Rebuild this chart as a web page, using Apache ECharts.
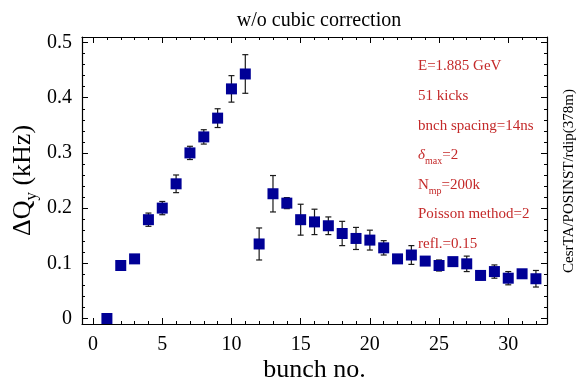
<!DOCTYPE html>
<html>
<head>
<meta charset="utf-8">
<script src="https://cdn.jsdelivr.net/npm/echarts@6/dist/echarts.min.js"></script>
<style>html,body{margin:0;padding:0;background:#fff}#c{width:577px;height:383px}</style>
</head>
<body>
<div id="c"></div>
<script>
// ---- data ----
const bunch = [1,2,3,4,5,6,7,8,9,10,11,12,13,14,15,16,17,18,19,20,21,22,23,24,25,26,27,28,29,30,31,32];
const dQ = [0,0.096,0.108,0.179,0.200,0.244,0.300,0.329,0.363,0.416,0.443,0.135,0.226,0.209,0.179,0.175,0.168,0.154,0.145,0.142,0.128,0.108,0.115,0.104,0.096,0.103,0.099,0.078,0.085,0.073,0.081,0.072];
const dQerr = [0,0.003,0.003,0.012,0.012,0.016,0.012,0.013,0.017,0.024,0.035,0.029,0.033,0.010,0.028,0.023,0.016,0.022,0.020,0.018,0.013,0.004,0.017,0.005,0.010,0.004,0.014,0.008,0.012,0.012,0.004,0.015];
const xMajor = [0,5,10,15,20,25,30];
const xMinor = [0,1,2,3,4,5,6,7,8,9,10,11,12,13,14,15,16,17,18,19,20,21,22,23,24,25,26,27,28,29,30,31,32];
const yMajor = [0,0.1,0.2,0.3,0.4,0.5];
const yMinor = [0,0.02,0.04,0.06,0.08,0.1,0.12,0.14,0.16,0.18,0.2,0.22,0.24,0.26,0.28,0.3,0.32,0.34,0.36,0.38,0.4,0.42,0.44,0.46,0.48,0.5];
const titleText = 'w/o cubic correction';
const xName = 'bunch no.';
const notes = ['{n|E=1.885 GeV}','{n|51 kicks}','{n|bnch spacing=14ns}','{i|δ}{s|max}{n|=2}','{n|N}{s|mp}{n|=200k}','{n|Poisson method=2}','{n|refl.=0.15}'];
const sideNote = 'CesrTA/POSINST/rdip(378m)';

const SERIF = '"Liberation Serif","Times New Roman",serif';
const BLUE = '#000096';
const RED = '#c42a2a';

const chart = echarts.init(document.getElementById('c'), null, {renderer:'canvas'});
const pts = bunch.map((b,i)=>[b,dQ[i]]);
const errs = bunch.map((b,i)=>[b,dQ[i]-dQerr[i],dQ[i]+dQerr[i]]);

function xAx(pos, major, labels){
  return {
    type:'value', position:pos, min:-0.8, max:32.8, gridIndex:0,
    axisLine:{show:major, onZero:false, lineStyle:{color:'#000', width:1.2}},
    axisTick:{show:true, inside:true, length: major?6:3, customValues: major?xMajor:xMinor, lineStyle:{color:'#000', width:1}},
    axisLabel:{show:labels, customValues:xMajor, margin:11, fontFamily:SERIF, fontSize:20, color:'#000'},
    splitLine:{show:false}
  };
}
function yAx(pos, major, labels){
  return {
    type:'value', position:pos, min:-0.01, max:0.51, gridIndex:0,
    axisLine:{show:major, onZero:false, lineStyle:{color:'#000', width:1.2}},
    axisTick:{show:true, inside:true, length: major?6:3, customValues: major?yMajor:yMinor, lineStyle:{color:'#000', width:1}},
    axisLabel:{show:labels, customValues:yMajor, margin:10, fontFamily:SERIF, fontSize:20, color:'#000'},
    splitLine:{show:false}
  };
}
const xAxes = [xAx('bottom',true,true), xAx('bottom',false,false), xAx('top',true,false), xAx('top',false,false)];
xAxes[0].name = xName;
xAxes[0].nameLocation = 'middle';
xAxes[0].nameGap = 33;
xAxes[0].nameMoveOverlap = false;
xAxes[0].nameTextStyle = {fontFamily:SERIF, fontSize:26, color:'#000'};
const yAxes = [yAx('left',true,true), yAx('left',false,false), yAx('right',true,false), yAx('right',false,false)];
yAxes[0].name = '{a|ΔQ}{s|y}{a| (kHz)}';
yAxes[0].nameLocation = 'middle';
yAxes[0].nameGap = 28;
yAxes[0].nameMoveOverlap = false;
yAxes[0].nameTextStyle = {fontFamily:SERIF, fontSize:26, color:'#000',
  rich:{a:{fontFamily:SERIF, fontSize:26, verticalAlign:'top', color:'#000'},
        s:{fontFamily:SERIF, fontSize:17, height:44, verticalAlign:'top', color:'#000'}}};

const noteRich = {
  n:{fontFamily:SERIF, fontSize:15, color:RED, verticalAlign:'top'},
  i:{fontFamily:SERIF, fontSize:15, fontStyle:'italic', color:RED, verticalAlign:'top'},
  s:{fontFamily:SERIF, fontSize:10, color:RED, height:27, verticalAlign:'top'}
};
const graphics = notes.map((t,i)=>({
  type:'text', left:418, top: 59 + i*29.6,
  style:{text:t, fill:RED, font:'15px '+SERIF, rich:noteRich}
}));
graphics.push({
  type:'text', x:569, y:181, rotation:Math.PI/2,
  style:{text:sideNote, fill:'#000', font:'15px '+SERIF, align:'center', verticalAlign:'middle'}
});

chart.setOption({
  animation:false,
  backgroundColor:'#fff',
  title:{text:titleText, left:314, top:6, textAlign:'center',
    textStyle:{fontFamily:SERIF, fontSize:20, fontWeight:'normal', color:'#000'}},
  grid:{left:82, right:30, top:37, bottom:59, containLabel:false, outerBoundsMode:'none'},
  xAxis:xAxes,
  yAxis:yAxes,
  graphic:graphics,
  series:[
    {type:'custom', xAxisIndex:0, yAxisIndex:0, z:2,
     data:errs,
     renderItem:function(params, api){
       const x = api.value(0);
       const lo = api.coord([x, api.value(1)]);
       const hi = api.coord([x, api.value(2)]);
       const w = 3;
       const st = {stroke:'#1a1a1a', lineWidth:1.2};
       return {type:'group', children:[
         {type:'line', shape:{x1:lo[0], y1:lo[1], x2:hi[0], y2:hi[1]}, style:st},
         {type:'line', shape:{x1:lo[0]-w, y1:lo[1], x2:lo[0]+w, y2:lo[1]}, style:st},
         {type:'line', shape:{x1:hi[0]-w, y1:hi[1], x2:hi[0]+w, y2:hi[1]}, style:st}
       ]};
     }},
    {type:'scatter', xAxisIndex:0, yAxisIndex:0, z:3, data:pts,
     symbol:'rect', symbolSize:11, itemStyle:{color:BLUE, opacity:1}}
  ]
});
</script>
</body>
</html>
